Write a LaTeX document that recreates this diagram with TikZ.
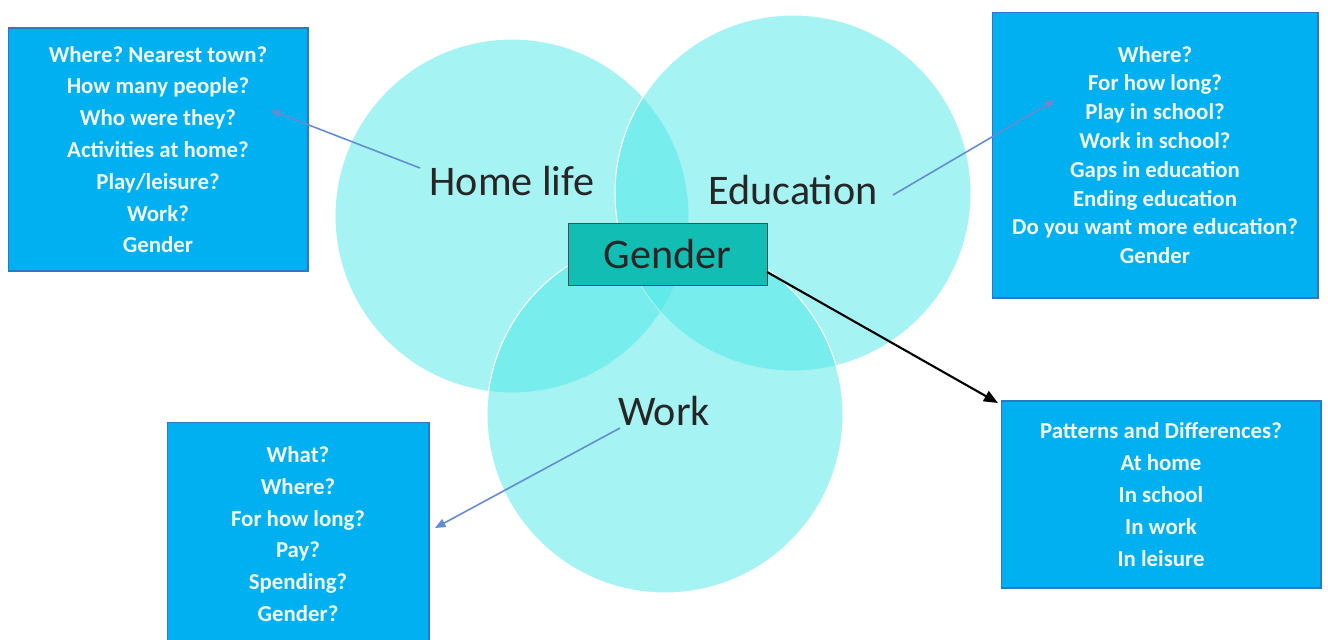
\documentclass[tikz,border=0pt]{standalone}
\usepackage{fontspec}
\setmainfont{Carlito}
\usetikzlibrary{arrows.meta}
\frenchspacing

\definecolor{ringcyan}{RGB}{75,231,231}
\definecolor{boxblue}{RGB}{0,176,240}
\definecolor{boxedge}{RGB}{45,120,190}
\definecolor{genderteal}{RGB}{18,189,180}
\definecolor{pointblue}{RGB}{100,140,210}

\tikzset{
  ring/.style={fill=ringcyan, fill opacity=0.5, draw=white, line width=0.6pt},
  ringlabel/.style={font=\fontsize{24}{28}\selectfont, text=black!85},
  qbox/.style={draw=boxedge, line width=0.6pt, fill=boxblue, text=white!95!boxblue, align=center},
  pointer/.style={pointblue, line width=0.9pt, -{Triangle[length=6pt,width=5pt]}},
}

\begin{document}
\begin{tikzpicture}[x=0.02cm, y=-0.02cm]

\useasboundingbox (0,0) rectangle (1328,639);

% the three circles
\filldraw[ring] (512,216) circle [radius=177];
\filldraw[ring] (793,193) circle [radius=178];
\filldraw[ring] (665,415) circle [radius=178];

\node[ringlabel] (home) at (512,181) {Home life};
\node[ringlabel] (edu)  at (793,190) {Education};
\node[ringlabel] (work) at (664,411) {Work};

\node[draw=black!70, line width=0.5pt, fill=genderteal, minimum width=3.98cm, minimum height=1.24cm,
      font=\fontsize{24}{28}\selectfont, text=black!85] (gender) at (667.5,254) {Gender};

% question boxes
\node[qbox, minimum width=6cm, minimum height=4.86cm, font=\bfseries\fontsize{13}{18.1}\selectfont]
  (homeq) at (158,149.5)
  {Where? Nearest town?\\How many people?\\Who were they?\\Activities at home?\\Play/leisure?\\Work?\\Gender};

\node[qbox, minimum width=6.52cm, minimum height=5.72cm, font=\bfseries\fontsize{13}{16.4}\selectfont]
  (eduq) at (1155,155)
  {Where?\\For how long?\\Play in school?\\Work in school?\\Gaps in education\\Ending education\\Do you want more education?\\Gender};

\node[qbox, minimum width=5.24cm, minimum height=4.48cm, font=\bfseries\fontsize{13}{18.1}\selectfont]
  (workq) at (298,534)
  {What?\\Where?\\For how long?\\Pay?\\Spending?\\Gender?};

\node[qbox, minimum width=6.4cm, minimum height=3.74cm, font=\bfseries\fontsize{13}{18.1}\selectfont]
  (diffq) at (1161,494.5)
  {Patterns and Differences?\\At home\\In school\\In work\\In leisure};

% connectors
\coordinate (homefrom) at (420,168);
\coordinate (hometo)   at (270,110);
\coordinate (edufrom)  at (893,195);
\coordinate (eduto)    at (1055,100);
\coordinate (workfrom) at (620,428);
\coordinate (workto)   at (435,528);
\coordinate (gfrom)    at (767,272);
\coordinate (gto)      at (998,403);

\draw[pointer] (homefrom) -- (hometo);
\draw[pointer] (edufrom) -- (eduto);
\draw[pointer] (workfrom) -- (workto);
\draw[black, line width=1.2pt, -{Triangle[length=8pt,width=6.5pt]}] (gfrom) -- (gto);

\end{tikzpicture}
\end{document}
